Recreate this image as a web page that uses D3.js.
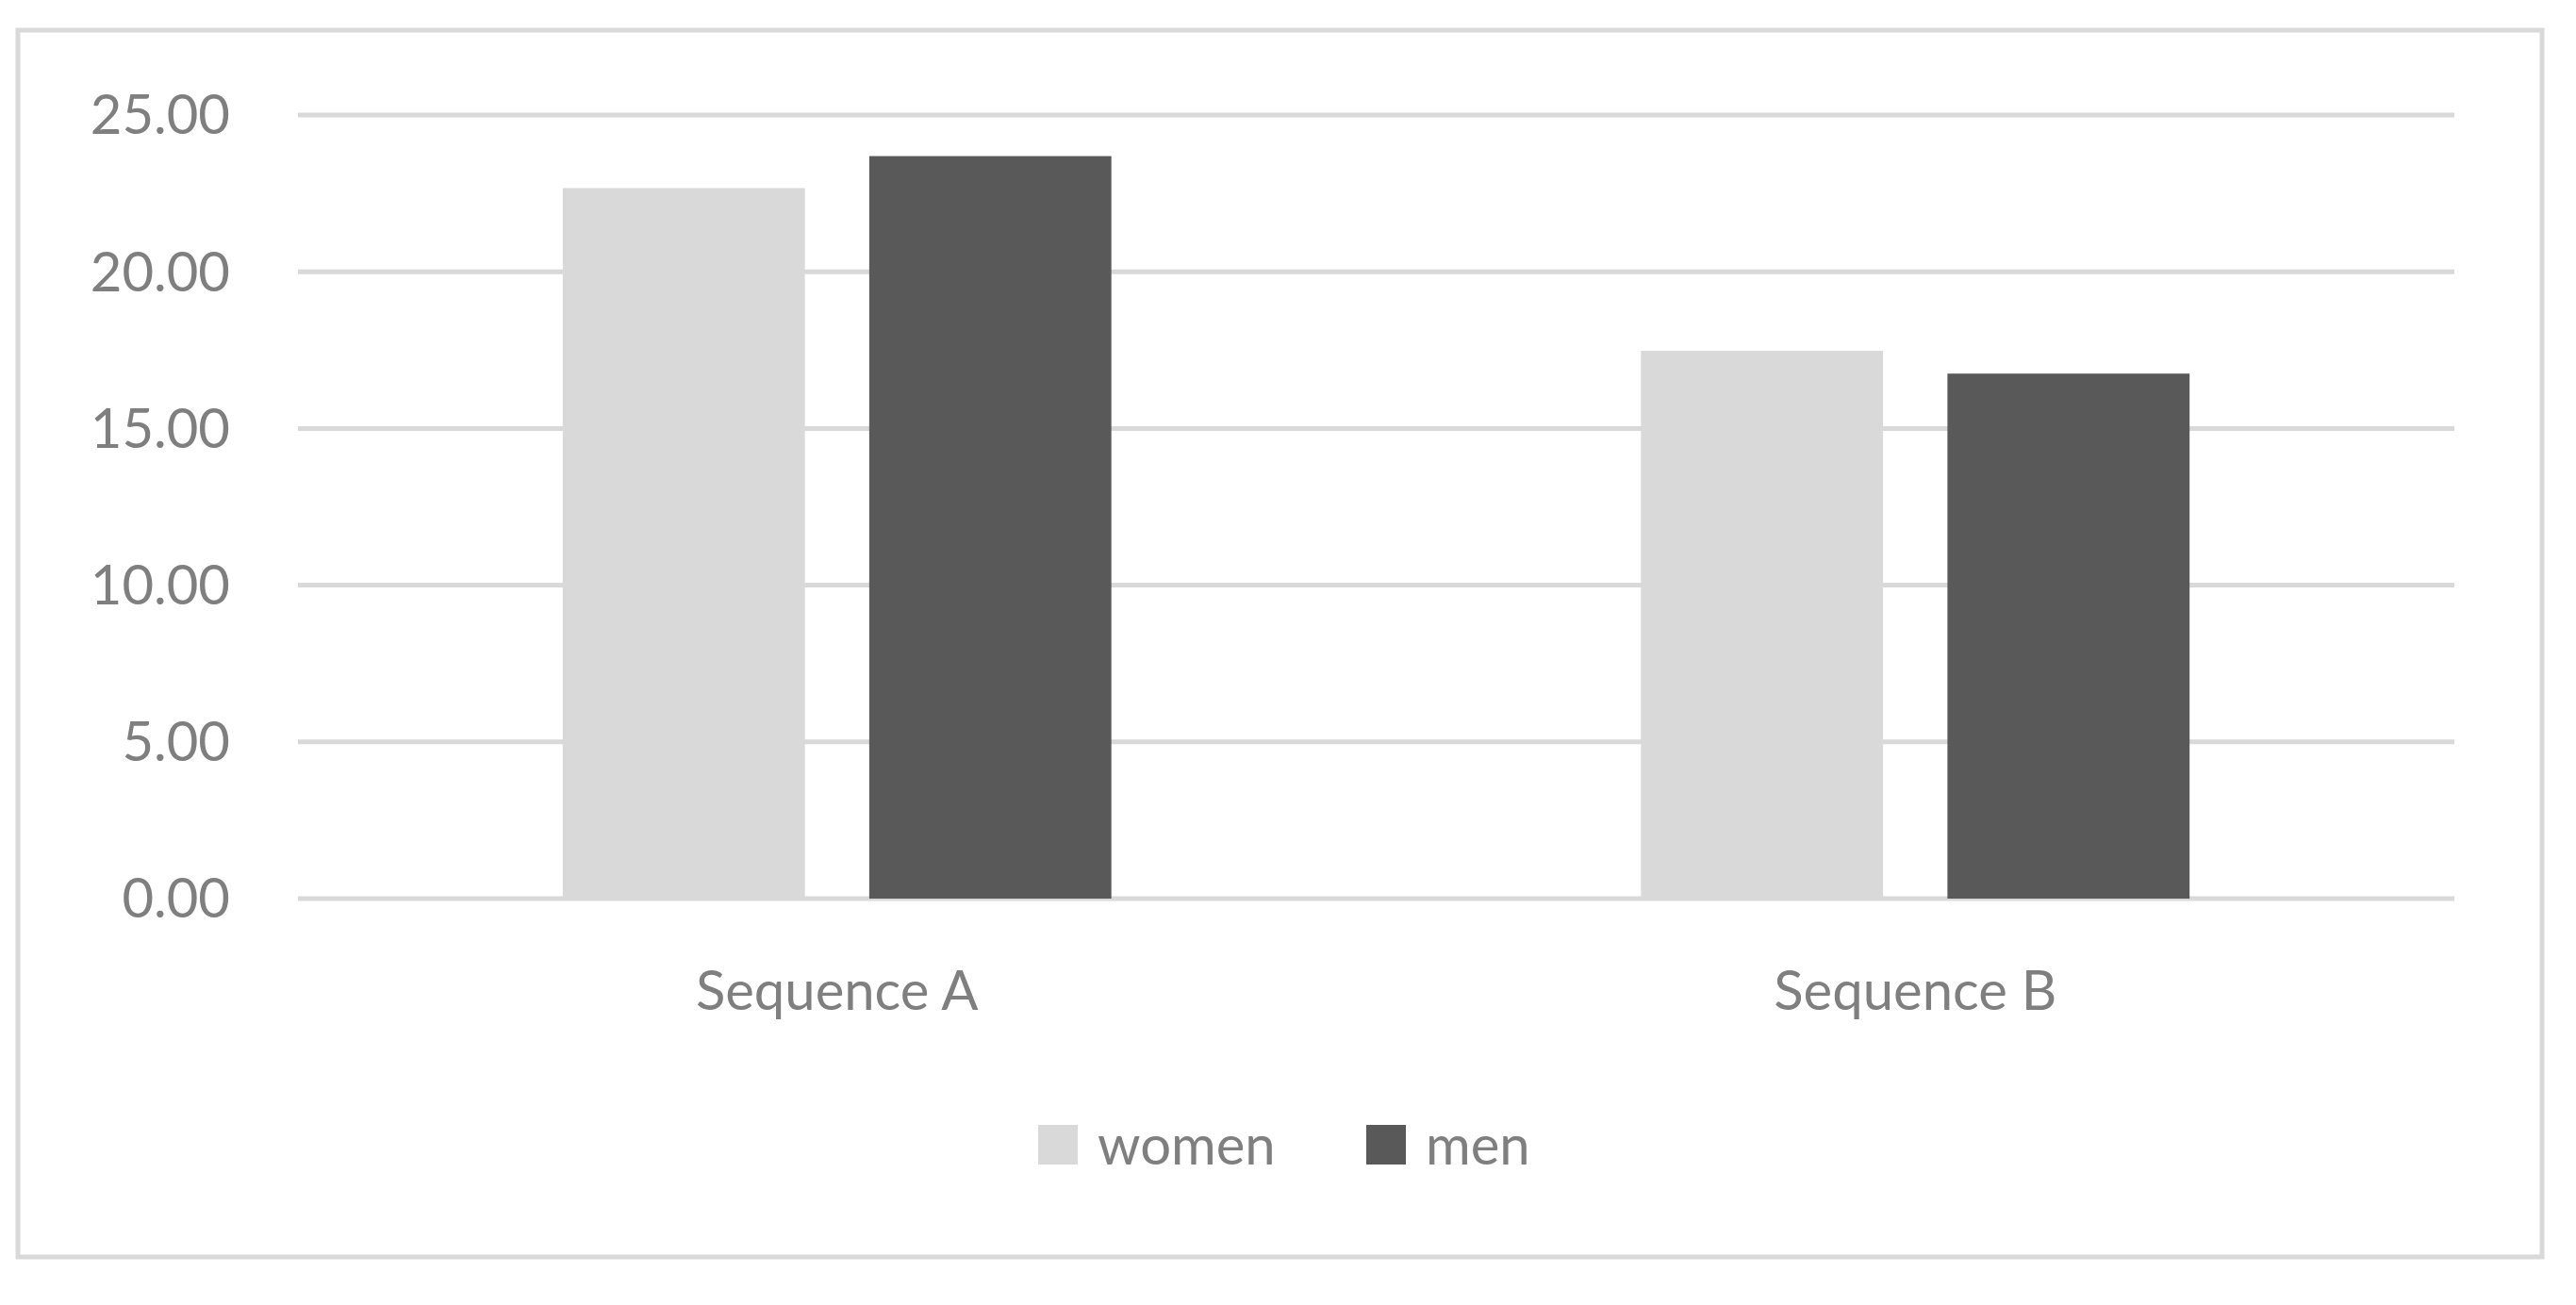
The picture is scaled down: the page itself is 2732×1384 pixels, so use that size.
<!DOCTYPE html>
<html>
<head>
<meta charset="utf-8">
<script src="https://cdn.jsdelivr.net/npm/d3@7"></script>
<style>
  body { margin: 0; background: #fff; }
  text { font-family: Lato, "Open Sans", sans-serif; fill: #7f7f7f; }
</style>
</head>
<body>
<svg id="chart" width="2732" height="1384"></svg>
<script>
// data
const categories = ["Sequence A", "Sequence B"];
const seriesNames = ["women", "men"];
const women = [22.67, 17.48];
const men = [23.69, 16.75];
const yTicks = [0, 5, 10, 15, 20, 25];
const colors = ["#d9d9d9", "#595959"];

const svg = d3.select("#chart");

// rand om de grafiek
svg.append("rect")
  .attr("x", 19).attr("y", 32)
  .attr("width", 2677).attr("height", 1301)
  .attr("fill", "none").attr("stroke", "#d9d9d9").attr("stroke-width", 5);

const plotLeft = 316, plotRight = 2603, plotTop = 122, plotBottom = 953;

const x = d3.scaleBand().domain(categories).range([plotLeft, plotRight]).paddingInner(0).paddingOuter(0);
const xs = d3.scaleBand().domain(seriesNames).range([0, x.bandwidth()]).paddingInner(0.21).paddingOuter(0.864);
const y = d3.scaleLinear().domain([0, 25]).range([plotBottom, plotTop]);

// gridlines
svg.append("g").selectAll("line").data(yTicks).join("line")
  .attr("x1", plotLeft).attr("x2", plotRight)
  .attr("y1", (d) => y(d)).attr("y2", (d) => y(d))
  .attr("stroke", "#d9d9d9").attr("stroke-width", 5);

// y labels
svg.append("g").selectAll("text").data(yTicks).join("text")
  .attr("x", 244).attr("y", (d) => y(d))
  .attr("dy", "0.35em")
  .attr("text-anchor", "end")
  .attr("font-size", 58)
  .text((d) => d.toFixed(2));

// bars
const series = [women, men];
const groups = svg.append("g").selectAll("g").data(categories).join("g")
  .attr("transform", (d) => "translate(" + x(d) + ",0)");

groups.selectAll("rect")
  .data((d, i) => seriesNames.map((s, j) => ({ s: s, v: series[j][i], c: colors[j] })))
  .join("rect")
  .attr("x", (d) => xs(d.s))
  .attr("width", xs.bandwidth())
  .attr("y", (d) => y(d.v))
  .attr("height", (d) => plotBottom - y(d.v))
  .attr("fill", (d) => d.c);

// category labels
svg.append("g").selectAll("text").data(categories).join("text")
  .attr("x", (d) => x(d) + x.bandwidth() / 2)
  .attr("y", 1071)
  .attr("text-anchor", "middle")
  .attr("font-size", 58)
  .text((d) => d);

// legend
const legendX = [1101, 1449];
const legend = svg.append("g").selectAll("g").data(seriesNames).join("g")
  .attr("transform", (d, i) => "translate(" + legendX[i] + ",1193)");
legend.append("rect").attr("width", 42).attr("height", 42).attr("fill", (d, i) => colors[i]);
legend.append("text").attr("x", 63).attr("y", 42).attr("font-size", 58).text((d) => d);
</script>
</body>
</html>
